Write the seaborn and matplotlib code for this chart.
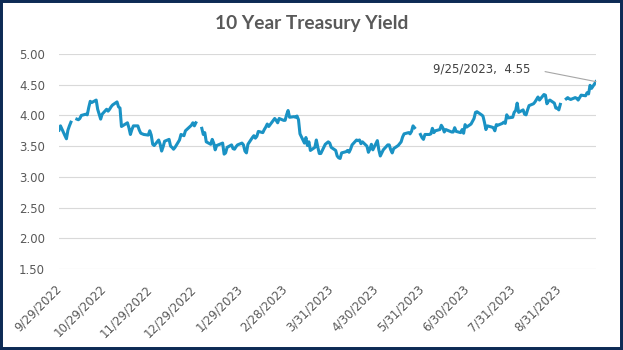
import numpy as np
import pandas as pd
import matplotlib
matplotlib.use("Agg")
import matplotlib.pyplot as plt
import matplotlib.patches as mpatches
import seaborn as sns

nan = np.nan

# Daily 10-year Treasury constant-maturity yields (%); nan = blank day in the source sheet
sep22 = [3.76, 3.83]
oct22 = [3.67, 3.62, 3.76, 3.83, 3.89, nan, 3.94, 3.93, 3.95, 4.00, 4.02, 4.01, 4.13, 4.23,
         4.21, 4.25, 4.10, 4.02, 3.94, 4.02, 4.10]
nov22 = [4.07, 4.10, 4.14, 4.17, 4.22, 4.14, 4.12, 3.82, 3.88, 3.80, 3.69, 3.77, 3.83,
         3.83, 3.76, 3.71, 3.69, 3.68, 3.75, 3.68]
dec22 = [3.53, 3.51, 3.60, 3.53, 3.42, 3.49, 3.58, 3.61, 3.50, 3.48, 3.45, 3.48, 3.60, 3.69,
         3.68, 3.67, 3.75, 3.84, 3.88, 3.83, 3.88]
jan23 = [nan, 3.79, 3.69, 3.72, 3.57, 3.53, 3.61, 3.55, 3.44, 3.51, 3.55, 3.37, 3.39,
         3.48, 3.52, 3.46, 3.45, 3.49, 3.52, 3.55, 3.52]
feb23 = [3.42, 3.39, 3.53, 3.64, 3.67, 3.63, 3.66, 3.74, 3.72, 3.77, 3.81, 3.86, 3.82,
         3.95, 3.92, 3.88, 3.95, 3.92, 3.92]
mar23 = [4.01, 4.08, 3.97, 3.98, 3.97, 3.99, 3.93, 3.70, 3.55, 3.64, 3.51, 3.57, 3.43, 3.48,
         3.60, 3.48, 3.38, 3.38, 3.53, 3.55, 3.57, 3.55, 3.48]
apr23 = [3.43, 3.34, 3.31, 3.30, 3.39, 3.41, 3.43, 3.40, 3.45, 3.52, 3.60, 3.59, 3.60, 3.54,
         3.57, 3.50, 3.40, 3.45, 3.53, 3.44]
may23 = [3.59, 3.44, 3.34, 3.39, 3.44, 3.52, 3.52, 3.44, 3.39, 3.46, 3.51, 3.54, 3.57, 3.65,
         3.70, 3.72, 3.70, 3.74, 3.83, 3.80, nan, 3.69, 3.64]
jun23 = [3.61, 3.69, 3.69, 3.70, 3.79, 3.72, 3.75, 3.77, 3.84, 3.80, 3.73, 3.77, 3.73,
         3.73, 3.80, 3.74, 3.72, 3.77, 3.71, 3.85, 3.81]
jul23 = [3.86, 3.95, 4.05, 4.06, 4.01, 3.99, 3.89, 3.77, 3.83, 3.81, 3.80, 3.75, 3.85,
         3.84, 3.87, 3.89, 3.87, 4.01, 3.96, 3.97]
aug23 = [4.05, 4.08, 4.20, 4.05, 4.09, 4.02, 4.01, 4.09, 4.16, 4.19, 4.22, 4.26, 4.30, 4.25,
         4.34, 4.33, 4.19, 4.23, 4.25, 4.20, 4.12, 4.12, 4.09]
sep23 = [4.18, nan, 4.27, 4.29, 4.27, 4.26, 4.29, 4.28, 4.25, 4.29, 4.33, 4.32, 4.37, 4.35,
         4.49, 4.44, 4.55]

start_date = "2022-09-29"
end_date = "2023-09-25"
# weekdays with no row at all (the line simply joins across them)
no_row_days = ["2022-11-11", "2022-11-24", "2022-12-26", "2023-01-16", "2023-02-20",
               "2023-06-19", "2023-07-04"]

tick_dates = ["2022-09-29", "2022-10-29", "2022-11-29", "2022-12-29", "2023-01-29",
              "2023-02-28", "2023-03-31", "2023-04-30", "2023-05-31", "2023-06-30",
              "2023-07-31", "2023-08-31"]
y_ticks = [1.50, 2.00, 2.50, 3.00, 3.50, 4.00, 4.50, 5.00]

title = "10 Year Treasury Yield"

yields = (sep22 + oct22 + nov22 + dec22 + jan23 + feb23 + mar23 + apr23 + may23
          + jun23 + jul23 + aug23 + sep23)
dates = pd.bdate_range(start_date, end_date).difference(pd.to_datetime(no_row_days))
assert len(dates) == len(yields), (len(dates), len(yields))

df = pd.DataFrame({"date": dates, "yield": yields})
# blank cells break the line into separate runs
df["seg"] = df["yield"].isna().cumsum()
df = df.dropna()

LINE = "#1A92C4"
GRID = "#D9D9D9"
TXT = "#595959"
BORDER = "#0D2B55"

W, H = 623, 350
fig = plt.figure(figsize=(W / 100, H / 100), dpi=100)
fig.patch.set_facecolor("white")
fig.patches.append(mpatches.Rectangle((0, 0), 1, 1, transform=fig.transFigure,
                                      fill=False, edgecolor=BORDER, linewidth=4.3,
                                      zorder=10))

ax = fig.add_axes([59 / W, (H - 269) / H, (596 - 59) / W, (269 - 54) / H])
sns.lineplot(data=df, x="date", y="yield", units="seg", estimator=None,
             color=LINE, linewidth=2.2, ax=ax, legend=False)

ax.set_xlim(pd.Timestamp(start_date), pd.Timestamp(end_date))
ax.set_ylim(1.5, 5.0)
ax.set_yticks(y_ticks)
ax.set_yticklabels([f"{v:.2f}" for v in y_ticks])
ticks = pd.to_datetime(tick_dates)
ax.set_xticks(ticks)
ax.set_xticklabels([f"{d.month}/{d.day}/{d.year}" for d in ticks])
ax.set_xlabel("")
ax.set_ylabel("")

ax.grid(axis="y", color=GRID, linewidth=0.8)
ax.grid(axis="x", visible=False)
ax.set_axisbelow(True)
for s in ax.spines.values():
    s.set_visible(False)
ax.tick_params(axis="both", length=0, colors=TXT, labelsize=8.5)
ax.tick_params(axis="y", pad=10)
ax.tick_params(axis="x", pad=13)
for lab in ax.get_xticklabels():
    lab.set_rotation(45)
    lab.set_rotation_mode("anchor")
    lab.set_ha("right")
    lab.set_va("center")

fig.text(0.5, 1 - 23 / H, title, ha="center", va="center", fontsize=13.8,
         fontweight="bold", color=TXT, family="Lato")

last = df.iloc[-1]
d = last["date"]
ax.annotate(f"{d.month}/{d.day}/{d.year},  {last['yield']:.2f}",
            xy=(last["date"], last["yield"]), xytext=(-66, 13),
            textcoords="offset pixels", ha="right", va="center",
            fontsize=8.5, color="#404040",
            arrowprops=dict(arrowstyle="-", color="#A6A6A6", lw=0.8,
                            shrinkA=9, shrinkB=0, relpos=(1, 0.5)))

fig.savefig("out.png", dpi=100)
